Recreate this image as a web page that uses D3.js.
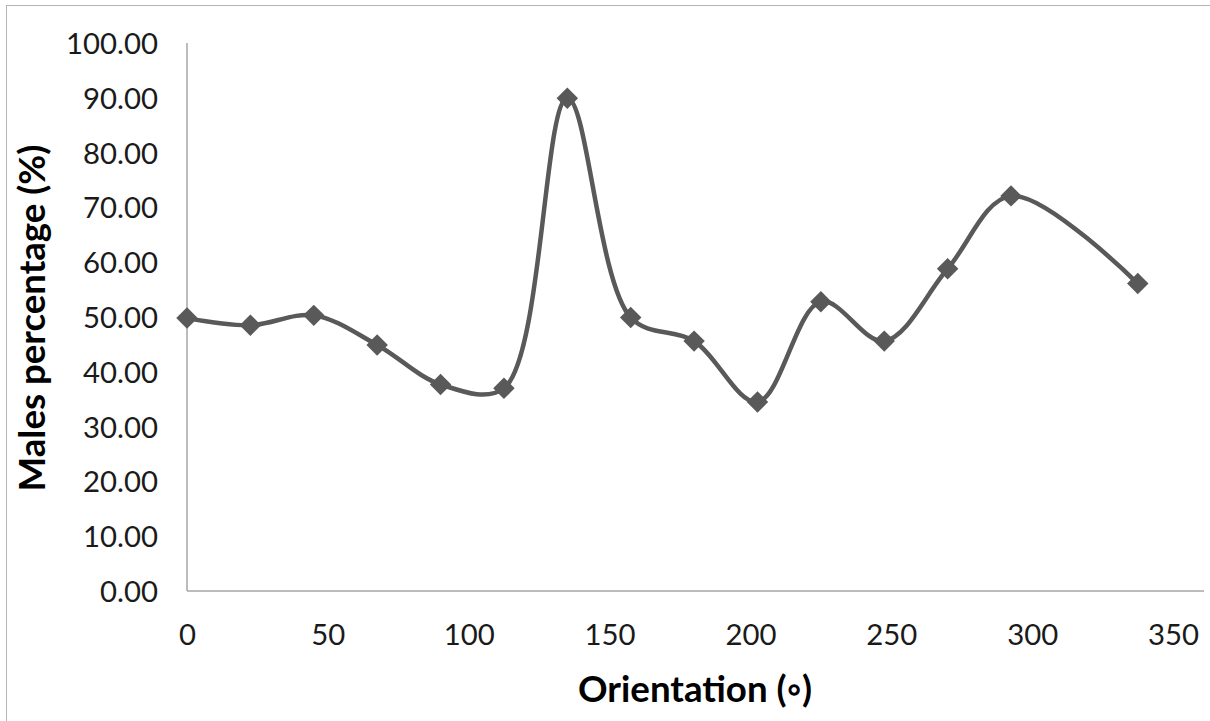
<!DOCTYPE html>
<html>
<head>
<meta charset="utf-8">
<script src="https://cdn.jsdelivr.net/npm/d3@7"></script>
<style>
  html, body { margin: 0; padding: 0; background: #fff; }
  svg { display: block; }
</style>
</head>
<body>
<svg id="chart" width="1210" height="721"></svg>
<script>
// ---- data ----
const orientations = [0, 22.5, 45, 67.5, 90, 112.5, 135, 157.5, 180, 202.5, 225, 247.5, 270, 292.5, 337.5];
const malesPct = [49.8, 48.5, 50.3, 44.9, 37.7, 37.0, 89.9, 49.9, 45.6, 34.5, 52.8, 45.6, 58.8, 72.1, 56.1];
const xTicks = [0, 50, 100, 150, 200, 250, 300, 350];
const yTicks = [0, 10, 20, 30, 40, 50, 60, 70, 80, 90, 100];
const xTitle = "Orientation (\u25E6)";
const yTitle = "Males percentage (%)";

(function () {
// ---- layout ----
const svg = d3.select("#chart");
const pLeft = 187, pRight = 1173, axisEnd = 1204, pTop = 43, pBottom = 591;
const FONT = "Lato, 'Open Sans', sans-serif";
const ink = "#595959";

svg.append("rect").attr("x", 6.5).attr("y", 5.5).attr("width", 1400).attr("height", 900)
  .attr("fill", "#fff").attr("stroke", "#b4b4b4").attr("stroke-width", 1);

const x = d3.scaleLinear().domain([0, 350]).range([pLeft, pRight]);
const y = d3.scaleLinear().domain([0, 100]).range([pBottom, pTop]);

function fit(sel, target) {
  const w = sel.node().getComputedTextLength();
  const fs = parseFloat(sel.attr("font-size"));
  return fs * target / w;
}

// axes lines
svg.append("line").attr("x1", pLeft).attr("x2", pLeft).attr("y1", pTop).attr("y2", pBottom)
  .attr("stroke", "#a6a6a6").attr("stroke-width", 1.5);
svg.append("line").attr("x1", pLeft).attr("x2", axisEnd).attr("y1", pBottom).attr("y2", pBottom)
  .attr("stroke", "#a6a6a6").attr("stroke-width", 1.5);

// measure tick font size from "100.00" width
const probe = svg.append("text").attr("font-family", FONT).attr("font-size", 30).text("100.00");
const tickFs = fit(probe, 92);
probe.remove();

// y tick labels via axis generator
const yAxis = d3.axisLeft(y).tickValues(yTicks).tickFormat(d3.format(".2f")).tickSize(0).tickPadding(0);
const gy = svg.append("g").attr("transform", `translate(158,0)`).call(yAxis);
gy.select(".domain").remove();
gy.selectAll("text").attr("font-family", FONT).attr("font-size", tickFs).attr("fill", "#1a1a1a")
  .attr("x", 0).attr("dy", null).attr("y", 10.5);

// x tick labels
const xAxis = d3.axisBottom(x).tickValues(xTicks).tickFormat(d3.format("d")).tickSize(0).tickPadding(0);
const gx = svg.append("g").attr("transform", `translate(0,${pBottom})`).call(xAxis);
gx.select(".domain").remove();
gx.selectAll("text").attr("font-family", FONT).attr("font-size", tickFs).attr("fill", "#1a1a1a")
  .attr("dy", null).attr("y", 54);

// titles
const xt = svg.append("text").attr("font-family", FONT).attr("font-weight", "bold").attr("font-size", 32)
  .attr("fill", "#000").attr("text-anchor", "middle").attr("x", 695).attr("y", 702).text(xTitle);
xt.attr("font-size", fit(xt, 234));

const yt = svg.append("text").attr("font-family", FONT).attr("font-weight", "bold").attr("font-size", 32)
  .attr("fill", "#000").attr("text-anchor", "middle")
  .attr("transform", "translate(45,318) rotate(-90)").text(yTitle);
yt.attr("font-size", fit(yt, 347));

// series
const pts = orientations.map((o, i) => [o, malesPct[i]]);
const line = d3.line().x(d => x(d[0])).y(d => y(d[1])).curve(d3.curveCatmullRom.alpha(0.5));
svg.append("path").attr("d", line(pts)).attr("fill", "none").attr("stroke", ink)
  .attr("stroke-width", 4.5).attr("stroke-linejoin", "round").attr("stroke-linecap", "round");

const sym = d3.symbol().type(d3.symbolSquare).size(230);
svg.append("g").selectAll("path").data(pts).join("path")
  .attr("d", sym)
  .attr("transform", d => `translate(${x(d[0])},${y(d[1])}) rotate(45)`)
  .attr("fill", ink);
})();
</script>
</body>
</html>
